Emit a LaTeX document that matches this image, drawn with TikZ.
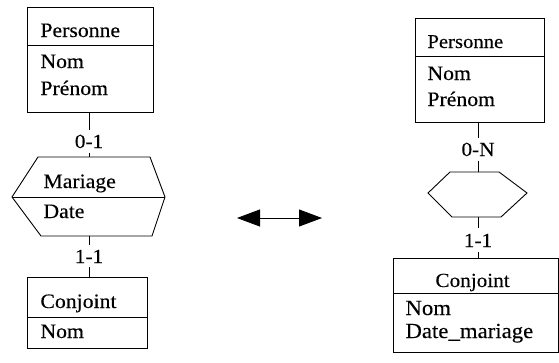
\documentclass[tikz,border=0pt]{standalone}
\usepackage{fontspec}
\setmainfont{Liberation Serif}[FakeStretch=1.06,FakeBold=0.25]
\usetikzlibrary{arrows.meta}
\begin{document}
\begin{tikzpicture}[x=1pt,y=-1pt,line width=0.9pt,
  box/.style={draw, inner sep=0pt, outer sep=0pt},
  txt/.style={anchor=base west, inner sep=0pt, font=\fontsize{20.5}{22}\selectfont},
  lbl/.style={anchor=base, inner xsep=0pt, inner ysep=4pt, font=\fontsize{20}{22}\selectfont},
  hexa/.style={draw, line join=miter}]
\useasboundingbox (0,0) rectangle (559,362);
% ---------- left ----------
\node[box, minimum width=126pt, minimum height=105pt] (p1) at (90,59.5) {};
\draw (p1.west |- 0,45) -- (p1.east |- 0,45);
\node[txt] (p1n) at (40,37) {Personne};
\node[txt] (p1a) at (40,68) {Nom};
\node[txt] (p1b) at (40,95) {Prénom};

\node[lbl] (l1) at (89,148) {0-1};
\coordinate (h1t) at (89,157);
\coordinate (h1b) at (89,236);
\draw[hexa] (38,157) -- (150,157) -- (165,197) -- (152,236) -- (41,236) -- (12,197) -- cycle;
\draw (12,197) -- (165,197);
\node[txt] (h1n) at (43,188) {Mariage};
\node[txt] (h1a) at (43,218) {Date};

\node[lbl] (l2) at (89,263) {1-1};
\node[box, minimum width=120pt, minimum height=71pt] (c1) at (87,312.5) {};
\draw (c1.west |- 0,317) -- (c1.east |- 0,317);
\node[txt] (c1n) at (40,308) {Conjoint};
\node[txt] (c1a) at (40,338) {Nom};

\draw (p1.south -| l1) -- (l1.north);
\draw (l1.south) -- (h1t);
\draw (h1b) -- (l2.north);
\draw (l2.south) -- (c1.north -| l2);

% ---------- arrow ----------
\coordinate (al) at (237,218);
\coordinate (ar) at (322,218);
\draw[line width=0.8pt, {Triangle[length=23pt,width=17pt]}-{Triangle[length=23pt,width=17pt]}] (al) -- (ar);

% ---------- right ----------
\node[box, minimum width=129pt, minimum height=104pt] (p2) at (479.5,70) {};
\draw (p2.west |- 0,56) -- (p2.east |- 0,56);
\node[txt, font=\fontsize{19.5}{21}\selectfont] (p2n) at (427,48) {Personne};
\node[txt] (p2a) at (427,80) {Nom};
\node[txt] (p2b) at (427,106) {Prénom};

\node[lbl] (l3) at (478,156) {0-N};
\coordinate (h2t) at (478,172);
\coordinate (h2b) at (478,217);
\draw[hexa] (450,172) -- (499,172) -- (527,193) -- (501,217) -- (452,217) -- (428,193) -- cycle;

\node[lbl, inner ysep=5pt] (l4) at (478,247) {1-1};
\node[box, minimum width=165pt, minimum height=94pt] (c2) at (475.5,305) {};
\draw (c2.west |- 0,293) -- (c2.east |- 0,293);
\node[txt, font=\fontsize{20}{22}\selectfont] (c2n) at (435,287) {Conjoint};
\node[txt, font=\fontsize{21.5}{23}\selectfont] (c2a) at (405,315) {Nom};
\node[txt, font=\fontsize{21.5}{23}\selectfont] (c2b) at (405,338) {Date\_mariage};

\draw (p2.south -| l3) -- (l3.north);
\draw (l3.south) -- (h2t);
\draw (h2b) -- (l4.north);
\draw (l4.south) -- (c2.north -| l4);
\end{tikzpicture}
\end{document}
